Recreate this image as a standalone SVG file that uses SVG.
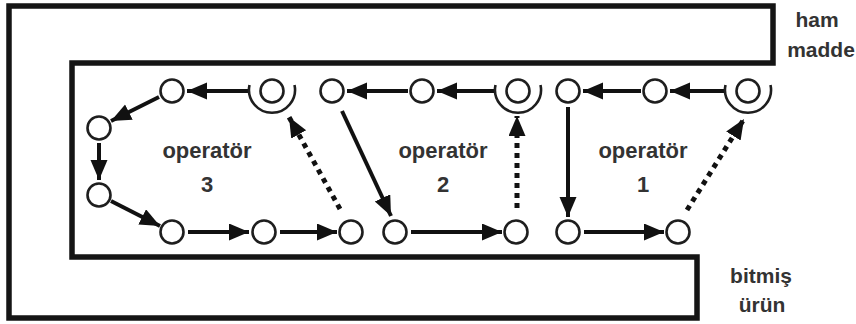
<svg xmlns="http://www.w3.org/2000/svg" width="856" height="324" viewBox="0 0 856 324">
  <style>
    .frame { fill: none; stroke: #151515; stroke-width: 5.5; stroke-linejoin: miter; }
    .st { fill: #fff; stroke: #1e1e1e; stroke-width: 2.6; }
    .ring { fill: none; stroke: #1e1e1e; stroke-width: 2.6; }
    .flow { fill: none; stroke: #111; stroke-width: 4; marker-end: url(#head); }
    .back { fill: none; stroke: #111; stroke-width: 5; stroke-dasharray: 5 5; marker-end: url(#head); }
    .lbl { font-family: "Liberation Sans", Arial, sans-serif; font-weight: bold; font-size: 21px; fill: #333; text-anchor: middle; }
    .op { font-size: 22px; }
  </style>
  <defs>
    <marker id="head" markerUnits="userSpaceOnUse" markerWidth="24" markerHeight="20" refX="20" refY="8.5" orient="auto">
      <path d="M0,0 L20,8.5 L0,17 z" fill="#111"/>
    </marker>
    <!-- station with operator: circle plus a curved guard below -->
    <g id="work">
      <circle class="st" r="11.5"/>
      <path class="ring" d="M-22.5,-6 A23,23 0 1 0 22.5,-6"/>
    </g>
  </defs>

  <rect width="856" height="324" fill="#fff"/>

  <!-- U-shaped cell boundary -->
  <path class="frame" d="M9,6 H773 V63 H72 V257 H697 V318 H9 Z"/>

  <!-- labels -->
  <g id="labels">
    <text class="lbl" x="817" y="27">ham</text>
    <text class="lbl" x="821" y="57">madde</text>
    <text class="lbl" x="761" y="283">bitmiş</text>
    <text class="lbl" x="762" y="312">ürün</text>
    <text class="lbl op" x="207" y="158">operatör</text>
    <text class="lbl op" x="207" y="192">3</text>
    <text class="lbl op" x="443" y="158">operatör</text>
    <text class="lbl op" x="443" y="192">2</text>
    <text class="lbl op" x="643" y="158">operatör</text>
    <text class="lbl op" x="643" y="192">1</text>
  </g>

  <!-- connectors -->
  <g id="connectors">
    <line class="flow" x1="724" y1="91" x2="670" y2="91"/>
    <line class="flow" x1="641" y1="91" x2="583" y2="91"/>
    <line class="flow" x1="494" y1="91" x2="437" y2="91"/>
    <line class="flow" x1="408" y1="91" x2="347" y2="91"/>
    <line class="flow" x1="248" y1="91" x2="187" y2="91"/>
    <line class="flow" x1="159" y1="97" x2="111" y2="121"/>
    <line class="flow" x1="99" y1="143" x2="99" y2="180"/>
    <line class="flow" x1="111" y1="201" x2="160" y2="226"/>
    <line class="flow" x1="188" y1="232" x2="249" y2="232"/>
    <line class="flow" x1="280" y1="232" x2="337" y2="232"/>
    <line class="flow" x1="411" y1="232" x2="502" y2="232"/>
    <line class="flow" x1="584" y1="232" x2="664" y2="232"/>
    <line class="flow" x1="342" y1="111" x2="391" y2="216"/>
    <line class="flow" x1="568" y1="107" x2="568" y2="217"/>
    <line class="back" x1="340" y1="209" x2="289" y2="117"/>
    <line class="back" x1="517" y1="208" x2="517" y2="116"/>
    <line class="back" x1="687" y1="210" x2="744" y2="119"/>
  </g>

  <!-- stations -->
  <g id="n-u1"><use href="#work" x="748" y="91"/></g>
  <g id="n-e"><circle class="st" cx="655" cy="91" r="11.5"/></g>
  <g id="n-d"><circle class="st" cx="568" cy="91" r="11.5"/></g>
  <g id="n-u2"><use href="#work" x="518" y="91"/></g>
  <g id="n-c"><circle class="st" cx="422" cy="91" r="11.5"/></g>
  <g id="n-b"><circle class="st" cx="332" cy="91" r="11.5"/></g>
  <g id="n-u3"><use href="#work" x="272" y="91"/></g>
  <g id="n-a"><circle class="st" cx="172" cy="91" r="11.5"/></g>
  <g id="n-f"><circle class="st" cx="99" cy="128" r="11.5"/></g>
  <g id="n-g"><circle class="st" cx="99" cy="195" r="11.5"/></g>
  <g id="n-h"><circle class="st" cx="172" cy="232" r="11.5"/></g>
  <g id="n-i"><circle class="st" cx="264" cy="232" r="11.5"/></g>
  <g id="n-j"><circle class="st" cx="351" cy="232" r="11.5"/></g>
  <g id="n-k"><circle class="st" cx="395" cy="232" r="11.5"/></g>
  <g id="n-l"><circle class="st" cx="516" cy="232" r="11.5"/></g>
  <g id="n-m"><circle class="st" cx="568" cy="232" r="11.5"/></g>
  <g id="n-n"><circle class="st" cx="678" cy="232" r="11.5"/></g>
</svg>
